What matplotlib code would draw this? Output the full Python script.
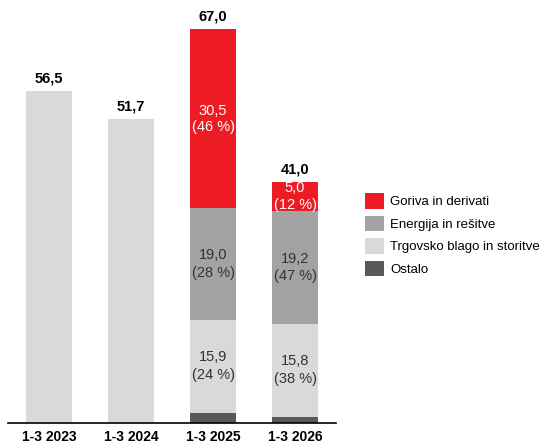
import matplotlib.pyplot as plt

plt.rcParams['font.family'] = ['Liberation Sans', 'DejaVu Sans']

categories = ['1-3 2023', '1-3 2024', '1-3 2025', '1-3 2026']
totals = [56.5, 51.7, 67.0, 41.0]
ostalo = [0.0, 0.0, 1.6, 1.0]
trgovsko = [56.5, 51.7, 15.9, 15.8]
energija = [0.0, 0.0, 19.0, 19.2]
goriva = [0.0, 0.0, 30.5, 5.0]
trgovsko_pct = [None, None, 24, 38]
energija_pct = [None, None, 28, 47]
goriva_pct = [None, None, 46, 12]

series_names = ['Goriva in derivati', 'Energija in rešitve',
                'Trgovsko blago in storitve', 'Ostalo']
colors = {'goriva': '#ED1C24', 'energija': '#A3A3A3',
          'trgovsko': '#D9D9D9', 'ostalo': '#595959'}

fig = plt.figure(figsize=(5.58, 4.41), dpi=100)
ax = fig.add_axes([8 / 558, 18.5 / 441, 328 / 558, 417.5 / 441])

x = list(range(len(categories)))
w = 0.56

b_ost = ax.bar(x, ostalo, w, color=colors['ostalo'])
bottom = ostalo[:]
b_trg = ax.bar(x, trgovsko, w, bottom=bottom, color=colors['trgovsko'])
bottom = [b + v for b, v in zip(bottom, trgovsko)]
b_ene = ax.bar(x, energija, w, bottom=bottom, color=colors['energija'])
bottom2 = [b + v for b, v in zip(bottom, energija)]
b_gor = ax.bar(x, goriva, w, bottom=bottom2, color=colors['goriva'])


def fmt(v):
    return f'{v:.1f}'.replace('.', ',')


# segment labels
for i in x:
    if trgovsko_pct[i] is not None:
        y0 = ostalo[i] + trgovsko[i] / 2
        ax.text(i, y0, f'{fmt(trgovsko[i])}\n({trgovsko_pct[i]} %)', ha='center',
                va='center', fontsize=10.5, color='#333333', linespacing=1.35)
        y1 = bottom[i] + energija[i] / 2
        ax.text(i, y1, f'{fmt(energija[i])}\n({energija_pct[i]} %)', ha='center',
                va='center', fontsize=10.5, color='#333333', linespacing=1.35)
        y2 = bottom2[i] + goriva[i] / 2
        ax.text(i, y2, f'{fmt(goriva[i])}\n({goriva_pct[i]} %)', ha='center',
                va='center', fontsize=10.5, color='white', linespacing=1.2)
    ax.annotate(fmt(totals[i]), (i, totals[i]), xytext=(0, 4),
                textcoords='offset points', ha='center', va='bottom',
                fontsize=10.5, fontweight='bold', color='black')

ax.set_xlim(-0.5, 3.5)
ax.set_ylim(0, 71.1)
for s in ['top', 'right', 'left']:
    ax.spines[s].set_visible(False)
ax.spines['bottom'].set_linewidth(1.2)
ax.set_yticks([])
ax.set_xticks(x)
ax.set_xticklabels(categories, fontsize=10, fontweight='bold')
ax.tick_params(axis='x', length=0, pad=5.5)

fig.legend([b_gor, b_ene, b_trg, b_ost], series_names, loc='upper left',
           bbox_to_anchor=(360 / 558, 1 - 188 / 441), frameon=False,
           fontsize=9.5, handlelength=1.4, handleheight=1.4,
           handletextpad=0.5, labelspacing=0.55, borderaxespad=0)

fig.savefig('out.png', dpi=100)
